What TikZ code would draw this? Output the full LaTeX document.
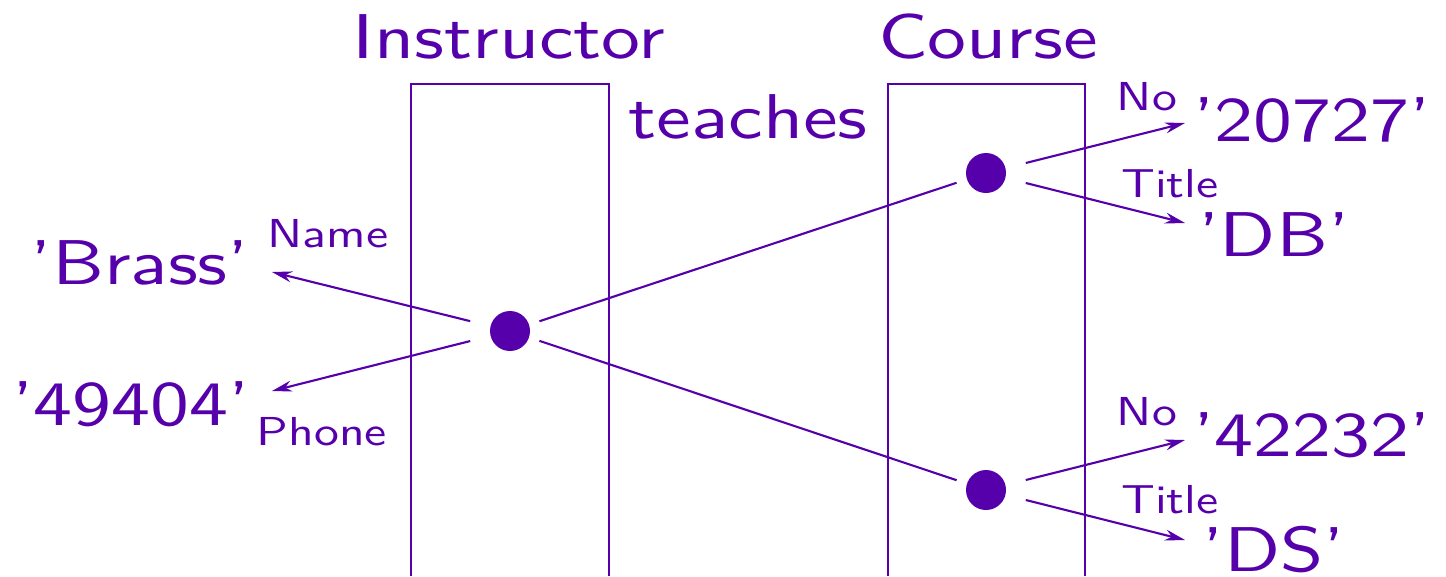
\documentclass[tikz,border=0pt]{standalone}
\usepackage{fontspec}
\setsansfont{lmsans10-regular}[Extension=.otf,FakeStretch=1.23]
\usepackage{tikz}
\usetikzlibrary{arrows.meta}
\definecolor{ink}{RGB}{85,0,170}

\tikzset{
  obj/.style={circle,fill=ink,inner sep=0pt,minimum size=0.4cm,outer sep=0.11cm},
  big/.style={font=\sffamily\fontsize{18}{22}\selectfont},
  val/.style={font=\sffamily\fontsize{18}{22}\selectfont},
  attr/.style={font=\sffamily\fontsize{11.5}{14}\selectfont},
  prop/.style={-{Stealth[length=0.2cm,width=0.11cm]},shorten <=0.1cm},
}

\begin{document}
\begin{tikzpicture}[color=ink,line width=0.6pt]
\useasboundingbox (0,0) rectangle (14.46,5.76);

% Instructor
\begin{scope}
\draw (4.11,0) -- (4.11,4.92) -- (6.09,4.92) -- (6.09,0);
\node[big] (inst) at (5.09,5.39) {Instructor};
\node[obj] (i) at (5.10,2.45) {};
\node[val] (brass) at (1.40,3.13) {'Brass'};
\node[attr] (name) at (3.28,3.42) {Name};
\node[val] (ph) at (1.31,1.72) {'49404'};
\node[attr] (phone) at (3.22,1.44) {Phone};
\coordinate (brasstip) at (2.72,3.04);
\coordinate (phtip) at (2.72,1.85);
\draw[prop] (i) -- (brasstip);
\draw[prop] (i) -- (phtip);
\end{scope}

% Course
\begin{scope}
\draw (8.88,0) -- (8.88,4.92) -- (10.85,4.92) -- (10.85,0);
\node[big] (course) at (9.88,5.39) {Course};
\node[obj] (c1) at (9.86,4.03) {};
\node[obj] (c2) at (9.86,0.86) {};
% first course
\node[attr] (no1) at (11.47,4.79) {No};
\node[val] (n1) at (13.12,4.56) {'20727'};
\node[attr] (ti1) at (11.70,3.92) {Title};
\node[val] (t1) at (12.74,3.41) {'DB'};
\coordinate (n1tip) at (11.85,4.53);
\coordinate (t1tip) at (11.85,3.53);
\draw[prop] (c1) -- (n1tip);
\draw[prop] (c1) -- (t1tip);
% second course
\node[attr] (no2) at (11.47,1.64) {No};
\node[val] (n2) at (13.12,1.41) {'42232'};
\node[attr] (ti2) at (11.70,0.76) {Title};
\node[val] (t2) at (12.74,0.26) {'DS'};
\coordinate (n2tip) at (11.85,1.36);
\coordinate (t2tip) at (11.85,0.36);
\draw[prop] (c2) -- (n2tip);
\draw[prop] (c2) -- (t2tip);
\end{scope}

% teaches
\node[big] (teach) at (7.48,4.59) {teaches};
\draw (i) -- (c1);
\draw (i) -- (c2);
\end{tikzpicture}
\end{document}
